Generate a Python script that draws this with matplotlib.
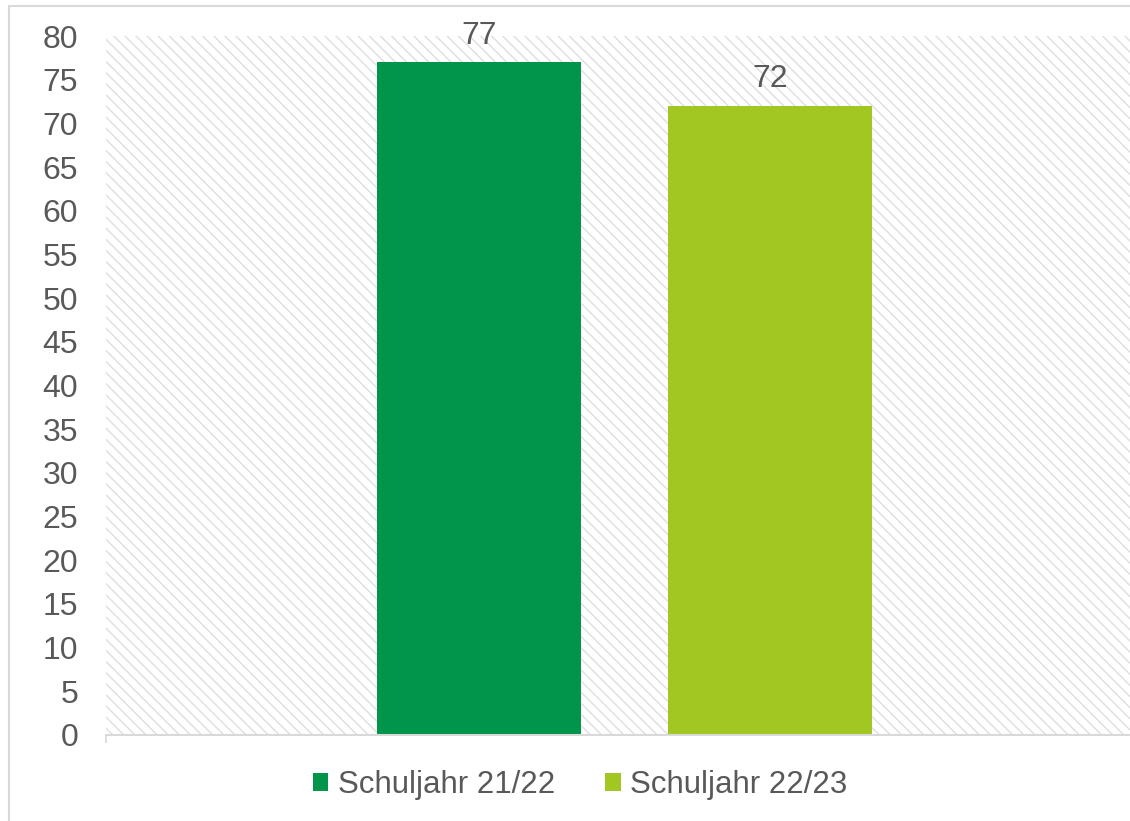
import matplotlib.pyplot as plt
from matplotlib.patches import Rectangle

series = ["Schuljahr 21/22", "Schuljahr 22/23"]
values = [77, 72]
colors = ["#00954A", "#A2C723"]
yticks = list(range(0, 85, 5))

plt.rcParams['font.family'] = ['Liberation Sans', 'DejaVu Sans']
plt.rcParams['hatch.linewidth'] = 1.0

W, H = 1130, 821
fig = plt.figure(figsize=(W / 100, H / 100), dpi=100)

# outer chart frame (cropped on the right / bottom)
fig.patches.append(Rectangle((9 / W, -0.1), 1.2, 1 - 6 / H + 0.1, transform=fig.transFigure,
                             fill=False, edgecolor='#d9d9d9', linewidth=1.5))

ax = fig.add_axes([106 / W, 1 - 735 / H, (1143 - 106) / W, (735 - 36) / H])
# hatched plot area background
ax.add_patch(Rectangle((0, 0), 1, 1, transform=ax.transAxes, facecolor='white',
                       edgecolor='#dedede', linewidth=0, hatch='\\\\\\', zorder=0))

width = 0.197
offsets = [-0.1403, 0.1403]
for i, (name, v) in enumerate(zip(series, values)):
    ax.bar(offsets[i], v, width, color=colors[i], label=name, zorder=2)
    ax.text(offsets[i], v + 3.05, str(v), ha='center', va='center', fontsize=23, color='#595959')

ax.set_xlim(-0.5, 0.5)
ax.set_ylim(0, 80)
ax.set_yticks(yticks)
ax.set_xticks([-0.5, 0.5])
ax.set_xticklabels([])
ax.tick_params(axis='y', length=0, pad=20, labelsize=23, labelcolor='#595959')
ax.tick_params(axis='x', length=6, color='#d9d9d9', width=1.2)
for s in ['top', 'right', 'left']:
    ax.spines[s].set_visible(False)
ax.spines['bottom'].set_color('#d9d9d9')
ax.spines['bottom'].set_linewidth(1.5)
ax.set_facecolor('white')

fig.legend(loc='center', bbox_to_anchor=(580 / W, 1 - 785 / H), ncol=2, frameon=False,
           fontsize=22.5, labelcolor='#595959', handlelength=0.5, handleheight=0.5,
           handletextpad=0.3, columnspacing=1.6)

fig.savefig('out.png', dpi=100)
